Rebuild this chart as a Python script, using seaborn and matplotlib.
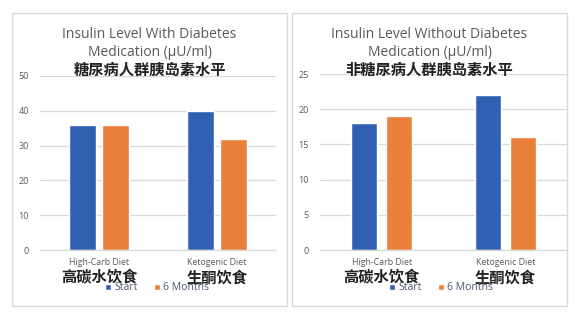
import matplotlib
matplotlib.use("Agg")
import matplotlib.pyplot as plt
import seaborn as sns
import pandas as pd
from matplotlib.patches import Rectangle, Patch

categories_en = ["High-Carb Diet", "Ketogenic Diet"]
categories_zh = ["高碳水饮食", "生酮饮食"]
series = ["Start", "6 Months"]
with_med_start = [36, 40]
with_med_6m = [36, 32]
without_med_start = [18, 22]
without_med_6m = [19, 16]
titles_en = [["Insulin Level With Diabetes", "Medication (µU/ml)"],
             ["Insulin Level Without Diabetes", "Medication (µU/ml)"]]
titles_zh = ["糖尿病人群胰岛素水平", "非糖尿病人群胰岛素水平"]
yticks_left = [0, 10, 20, 30, 40, 50]
yticks_right = [0, 5, 10, 15, 20, 25]

BLUE = "#3060B2"
ORANGE = "#E8803A"
GRID = "#D9D9D9"
TXT = "#595959"

sns.set_theme(style="white")
plt.rcParams['font.family'] = ['Open Sans', 'Noto Sans CJK SC', 'DejaVu Sans']

fig = plt.figure(figsize=(5.8, 3.24), dpi=100)
W, H = 580, 324

def fx(x): return x / W
def fy(y): return 1 - y / H

# panel borders
for (x0, x1) in [(12, 287), (292, 567)]:
    fig.add_artist(Rectangle((fx(x0), fy(306)), fx(x1 - x0), (306 - 13) / H,
                             transform=fig.transFigure, fill=False,
                             edgecolor=GRID, linewidth=1.0))

def make_df(start, six):
    rows = []
    for c, s, m in zip(categories_en, start, six):
        rows.append({"cat": c, "series": series[0], "val": s})
        rows.append({"cat": c, "series": series[1], "val": m})
    return pd.DataFrame(rows)

panels = [
    dict(df=make_df(with_med_start, with_med_6m), ax=(40, 276, 76, 250), ymax=50,
         ticks=yticks_left, px=(12, 287), width=0.56, gap=0.21,
         leg=(157, 288)),
    dict(df=make_df(without_med_start, without_med_6m), ax=(320, 567, 74, 250), ymax=25,
         ticks=yticks_right, px=(292, 567), width=0.57, gap=0.26,
         leg=(441, 288)),
]

for i, p in enumerate(panels):
    x0, x1, y0, y1 = p["ax"]
    ax = fig.add_axes([fx(x0), fy(y1), fx(x1 - x0), (y1 - y0) / H])
    sns.barplot(data=p["df"], x="cat", y="val", hue="series",
                palette=[BLUE, ORANGE], width=p["width"], gap=p["gap"],
                ax=ax, legend=False, saturation=1)
    ax.set_ylim(0, p["ymax"])
    ax.set_xlim(-0.5, 1.5)
    ax.set_yticks(p["ticks"])
    ax.set_yticklabels([str(t) for t in p["ticks"]], fontsize=6.5, color=TXT)
    ax.yaxis.grid(True, color=GRID, linewidth=0.9)
    ax.set_axisbelow(True)
    for s in ["top", "right", "left"]:
        ax.spines[s].set_visible(False)
    ax.spines["bottom"].set_color(GRID)
    ax.spines["bottom"].set_linewidth(0.9)
    ax.tick_params(axis="y", length=0, pad=8)
    ax.tick_params(axis="x", length=0, pad=6)
    ax.set_xticks([0, 1])
    ax.set_xticklabels(categories_en, fontsize=6.3, color=TXT)
    ax.set_xlabel("")
    ax.set_ylabel("")
    for j, zh in enumerate(categories_zh):
        ax.annotate(zh, xy=(j, 0), xycoords=("data", "axes fraction"),
                    xytext=(0, -20), textcoords="offset points",
                    ha="center", va="center", fontsize=11, fontweight="bold",
                    color="#222222", family=['Noto Sans CJK SC', 'DejaVu Sans'])
    cx = (p["px"][0] + p["px"][1]) / 2
    fig.text(fx(cx), fy(34), titles_en[i][0], ha="center", va="center",
             fontsize=10, color=TXT)
    fig.text(fx(cx), fy(52), titles_en[i][1], ha="center", va="center",
             fontsize=10, color=TXT)
    fig.text(fx(cx), fy(70), titles_zh[i], ha="center", va="center",
             fontsize=11, fontweight="bold", color="#222222",
             family=['Noto Sans CJK SC', 'DejaVu Sans'])
    handles = [Patch(facecolor=BLUE), Patch(facecolor=ORANGE)]
    fig.legend(handles, series, loc="center",
               bbox_to_anchor=(fx(p["leg"][0]), fy(p["leg"][1])),
               ncol=2, frameon=False, fontsize=7.5, handlelength=0.6,
               handleheight=0.6, handletextpad=0.3, columnspacing=1.6,
               labelcolor="#4a5570", borderpad=0, borderaxespad=0)

fig.savefig("out.png", dpi=100, facecolor="white")
